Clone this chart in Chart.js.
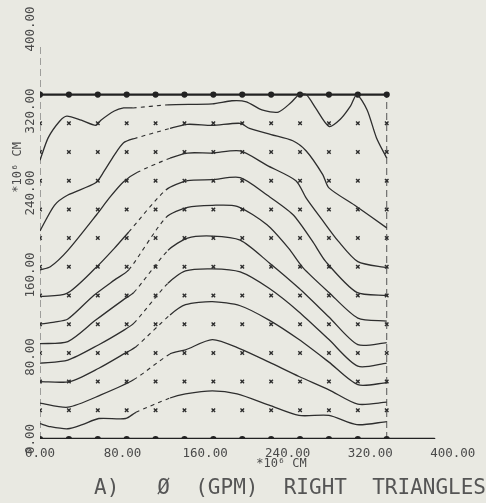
<!DOCTYPE html>
<html>
<head>
<meta charset="utf-8">
<script src="https://cdn.jsdelivr.net/npm/chart.js@4.4.1/dist/chart.umd.min.js"></script>
<style>
  html, body { margin: 0; padding: 0; background: #e9e9e2; }
  canvas { display: block; }
</style>
</head>
<body>
<canvas id="grafico" width="486" height="503"></canvas>
<script>
// ------------------------------------------------------
// Dados (unidades de 10^6 cm)
// ------------------------------------------------------
const xTicks = [0, 80, 160, 240, 320, 400];
const yTicks = [0, 80, 160, 240, 320, 400];

// nos da grade
const gridX = [0, 28, 56, 84, 112, 140, 168, 196, 224, 252, 280, 308, 336];
const gridY = [0, 28, 56, 84, 112, 140, 168, 196, 224, 252, 280, 308, 336];

// fim dos eixos desenhados
const xAxisEnd = 382;
const yAxisEnd = 384;

// isolinhas (null = trecho do rotulo, desenhado picotado)
const c1X = [0, 8, 19, 26, 40, 54, 59, 72, 81, 90, null, 124, 167, 186, 200, 215, 231, 243, 251, 258, 267, 280, 291, 301, 307, 317, 326, 336];
const c1Y = [272, 294, 310, 315, 311, 306, 311, 320, 323, 323, null, 326, 327, 330, 329, 321, 319, 328, 336, 336, 323, 305, 312, 325, 336, 321, 294, 274];

const c2X = [0, 14, 27, 54, 62, 72, 81, 91, null, 126, 143, 167, 194, 203, 224, 245, 258, 274, 280, 305, 336];
const c2Y = [203, 228, 238, 250, 261, 277, 289, 293, null, 303, 307, 306, 308, 303, 297, 291, 281, 258, 245, 228, 206];

const c3X = [0, 10, 27, 55, 67, 81, 94, null, 126, 143, 167, 194, 220, 248, 258, 274, 289, 308, 336];
const c3Y = [165, 168, 184, 219, 235, 251, 260, null, 274, 279, 279, 281, 267, 252, 235, 213, 193, 173, 167];

const c4X = [0, 26, 54, 72, 86, null, 122, 143, 167, 194, 220, 245, 264, 277, 307, 336];
const c4Y = [139, 142, 167, 186, 202, null, 243, 252, 253, 255, 238, 219, 193, 173, 143, 140];

const c5X = [0, 14, 27, 52, 72, 86, null, 122, 143, 167, 191, 220, 241, 255, 280, 308, 336];
const c5Y = [112, 114, 117, 140, 155, 165, null, 216, 226, 228, 227, 209, 186, 167, 143, 118, 115];

const c6X = [0, 27, 54, 81, 91, null, 124, 143, 167, 194, 222, 251, 280, 308, 336];
const c6Y = [93, 95, 116, 136, 143, null, 184, 196, 198, 194, 172, 147, 119, 92, 94];

const c7X = [0, 27, 57, 81, 91, null, 124, 141, 167, 194, 222, 251, 280, 308, 336];
const c7Y = [74, 77, 92, 106, 113, null, 152, 164, 166, 163, 147, 124, 97, 71, 74];

const c8X = [0, 29, 57, 83, 93, null, 126, 141, 167, 194, 222, 251, 280, 308, 336];
const c8Y = [56, 56, 69, 84, 90, null, 121, 131, 134, 130, 116, 97, 75, 53, 55];

const c9X = [0, 27, 59, 91, null, 126, 141, 167, 194, 222, 251, 280, 308, 336];
const c9Y = [35, 31, 43, 58, null, 83, 87, 97, 88, 75, 61, 48, 34, 36];

const c10X = [0, 10, 27, 41, 57, 83, 93, null, 126, 141, 167, 191, 222, 251, 280, 307, 336];
const c10Y = [15, 12, 10, 14, 20, 20, 26, null, 40, 44, 47, 44, 33, 23, 23, 14, 17];

const contornos = [
  [c1X, c1Y], [c2X, c2Y], [c3X, c3Y], [c4X, c4Y], [c5X, c5Y],
  [c6X, c6Y], [c7X, c7Y], [c8X, c8Y], [c9X, c9Y], [c10X, c10Y]
];

// ------------------------------------------------------
// Estilo
// ------------------------------------------------------
const corTinta = "#2e2e2e";
const corTexto = "#4a4a4a";
const fonte = "'DejaVu Sans Mono', monospace";

// tira o null e guarda onde comeca o trecho do rotulo
function montarContorno(xs, ys) {
  const pts = [];
  let gap = -1;
  xs.forEach((x, i) => {
    if (x === null) gap = pts.length - 1;
    else pts.push({ x, y: ys[i] });
  });
  return { pts, gap };
}

// marcas x nos nos internos
const marcas = [];
gridY.slice(1, -1).forEach(y => gridX.forEach(x => marcas.push({ x, y })));

const topo = gridX.map(x => ({ x, y: gridY[gridY.length - 1] }));
const base = gridX.map(x => ({ x, y: 0 })).concat([{ x: xAxisEnd, y: 0 }]);
const xMax = gridX[gridX.length - 1];

const datasets = [];

contornos.forEach(([xs, ys]) => {
  const { pts, gap } = montarContorno(xs, ys);
  datasets.push({
    data: pts,
    showLine: true,
    borderColor: corTinta,
    borderWidth: 1.3,
    pointRadius: 0,
    tension: 0.25,
    segment: {
      borderDash: ctx => (ctx.p0DataIndex === gap ? [4, 4] : undefined),
      borderWidth: ctx => (ctx.p0DataIndex === gap ? 1.1 : undefined)
    }
  });
});

datasets.push({
  data: marcas,
  pointStyle: "crossRot",
  pointRadius: 2.5,
  borderWidth: 1.4,
  borderColor: corTinta,
  backgroundColor: corTinta
});

// borda superior e eixo x (grossos com pontos)
[topo, base].forEach(d => {
  datasets.push({
    data: d,
    showLine: true,
    borderWidth: 2.4,
    pointRadius: d.map((p, i) => (i < gridX.length ? 1.9 : 0)),
    pointStyle: "circle",
    backgroundColor: "#222",
    borderColor: "#222",
    borderCapStyle: "round"
  });
});

// bordas laterais tracejadas
datasets.push({
  data: [{ x: 0, y: 0 }, { x: 0, y: yAxisEnd }],
  showLine: true, borderColor: "#555", borderWidth: 1, borderDash: [7, 4], pointRadius: 0
});
datasets.push({
  data: [{ x: xMax, y: 0 }, { x: xMax, y: gridY[gridY.length - 1] }],
  showLine: true, borderColor: "#555", borderWidth: 1, borderDash: [7, 4], pointRadius: 0
});

// ------------------------------------------------------
// Rotulos "*10^6 CM"
// ------------------------------------------------------
const rotulosEscala = {
  id: "rotulosEscala",
  afterDraw(chart) {
    const { ctx, scales: { x, y } } = chart;
    ctx.save();
    ctx.fillStyle = corTexto;
    ctx.font = "12px " + fonte;
    ctx.textAlign = "center";
    ctx.textBaseline = "middle";
    ctx.fillText("*10\u2076 CM", x.getPixelForValue(234), 464);
    ctx.translate(18, y.getPixelForValue(265));
    ctx.rotate(-Math.PI / 2);
    ctx.fillText("*10\u2076 CM", 0, 0);
    ctx.restore();
  }
};

new Chart(document.getElementById("grafico"), {
  type: "scatter",
  data: { datasets },
  plugins: [rotulosEscala],
  options: {
    responsive: false,
    animation: false,
    devicePixelRatio: 1,
    layout: { padding: { top: 29, right: 0, bottom: 0, left: 0 } },
    plugins: {
      legend: { display: false },
      tooltip: { enabled: false },
      title: {
        display: true,
        position: "bottom",
        align: "end",
        text: "A)   \u00d8  (GPM)  RIGHT  TRIANGLES",
        color: "#555",
        font: { family: fonte, size: 21, weight: "normal", lineHeight: 1.2 },
        padding: { top: 1, bottom: 2 }
      }
    },
    scales: {
      x: {
        type: "linear",
        min: 0,
        max: 426,
        afterBuildTicks: s => { s.ticks = xTicks.map(v => ({ value: v })); },
        afterFit: s => { s.height = 35.8; },
        grid: { display: false, drawTicks: false },
        border: { display: false },
        ticks: {
          autoSkip: false,
          includeBounds: false,
          maxRotation: 0,
          padding: 7,
          color: corTexto,
          font: { family: fonte, size: 12.5 },
          callback: v => v.toFixed(2)
        }
      },
      y: {
        type: "linear",
        min: 0,
        max: 400,
        afterBuildTicks: s => { s.ticks = yTicks.map(v => ({ value: v })); },
        afterFit: s => { s.width = 40; },
        grid: { display: false, drawTicks: false },
        border: { display: false },
        ticks: {
          autoSkip: false,
          minRotation: 90,
          maxRotation: 90,
          crossAlign: "center",
          padding: -13.5,
          color: corTexto,
          font: { family: fonte, size: 12.5 },
          callback: v => v.toFixed(2)
        }
      }
    }
  }
});
</script>
</body>
</html>
